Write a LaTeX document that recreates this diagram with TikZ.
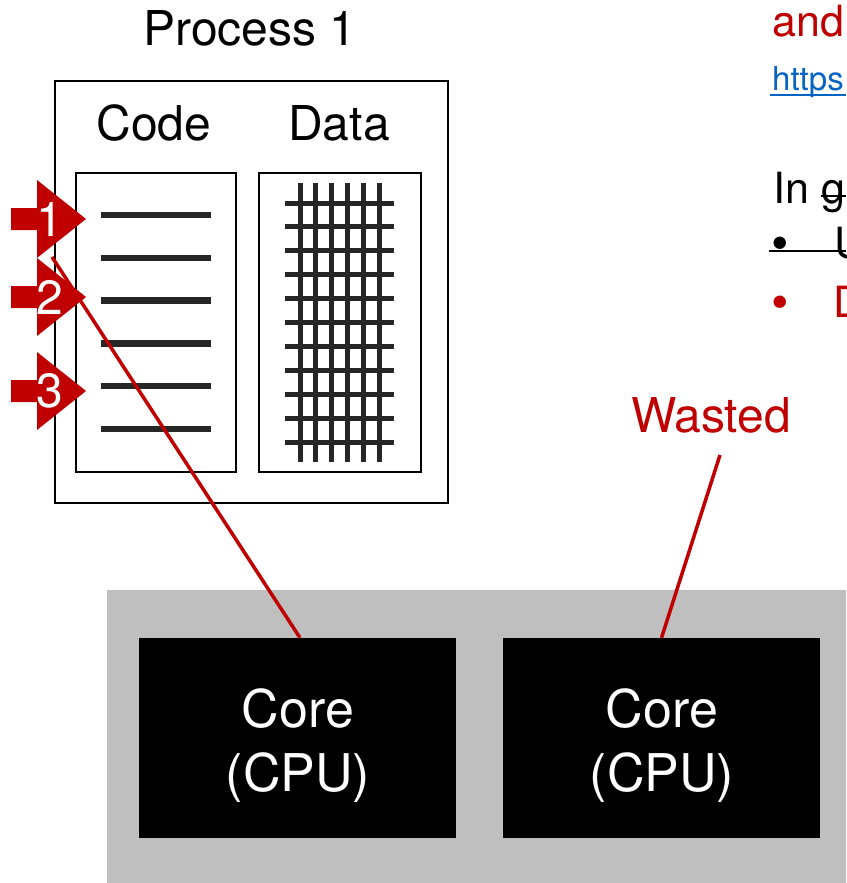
\documentclass[tikz,border=0pt]{standalone}
\usepackage{fontspec}
\setmainfont{TeX Gyre Heros}
\definecolor{accent}{HTML}{C00000}
\definecolor{link}{HTML}{0563C1}
\definecolor{ink}{HTML}{262626}
\definecolor{chip}{HTML}{BFBFBF}
\tikzset{
  big/.style={font=\fontsize{48}{50}\selectfont, inner sep=0pt},
  coretext/.style={font=\fontsize{52}{54}\selectfont, inner sep=0pt, text=white, anchor=base},
  side/.style={font=\fontsize{43}{45}\selectfont, inner sep=0pt, anchor=base west},
  frame/.style={draw=black, line width=2pt},
  codeline/.style={draw=ink, line width=6.5pt},
  gridline/.style={draw=ink, line width=5pt},
  core/.style={fill=black, minimum width=317pt, minimum height=200pt, inner sep=0pt},
  wire/.style={draw=accent, line width=3.5pt},
}
\begin{document}
\begin{tikzpicture}[x=1pt,y=-1pt]
\useasboundingbox (0,0) rectangle (846,883);
\clip (0,0) rectangle (846,883);

% chip with two cores
\fill[chip] (107,590) rectangle (870,883);
\node[core] (core1) at (297.5,738) {};
\node[core] (core2) at (661.5,738) {};
\node[coretext] at (298,727) {Core};
\node[coretext] at (298,791) {(CPU)};
\node[coretext] at (662,727) {Core};
\node[coretext] at (662,791) {(CPU)};

% process image
\node[big, anchor=base] (ptitle) at (250,46) {Process 1};
\draw[frame] (55,81) rectangle (448,503);
\node[big, anchor=base] (codelbl) at (154,140) {Code};
\node[big, anchor=base] (datalbl) at (339,140) {Data};
\draw[frame] (76,173) rectangle (236,472);
\draw[frame] (259,173) rectangle (421,472);

% instructions
\foreach \i in {0,...,5}
  \draw[codeline] (101,215+42.8*\i) -- (211,215+42.8*\i);

% data grid
\foreach \i in {0,...,5}
  \draw[gridline] (300+15.8*\i,183) -- (300+15.8*\i,462);
\foreach \i in {0,...,10}
  \draw[gridline] (285,203+23.9*\i) -- (394,203+23.9*\i);

% threads of execution
\coordinate (pc) at (52,257);
\draw[wire] (pc) -- ([xshift=2.5pt]core1.north);

\foreach \n/\c in {1/219,2/297,3/391}{
  \fill[accent] (11,\c-11) -- (37,\c-11) -- (37,\c-39) -- (86,\c)
    -- (37,\c+39) -- (37,\c+11) -- (11,\c+11) -- cycle;
  \node[big, text=white] (t\n) at (50,\c) {\n};
}

% idle core
\node[big, text=accent, anchor=base] (wasted) at (711,432) {Wasted};
\coordinate (wfoot) at (720,455);
\draw[wire] (wfoot) -- (core2.north);

% slide text at the right edge
\node[side, text=accent] (and) at (772,37) {and};
\node[side, text=link, font=\fontsize{33}{35}\selectfont] (url) at (772,90) {https};
\draw[link, line width=2pt] (770,95) -- (846,95);
\node[side] (ing) at (773,203) {In g};
\draw[black, line width=2pt] (821,196) -- (846,196);
\node[side, font=\fontsize{50}{50}\selectfont] (b1) at (771,260) {\textbullet};
\node[side] (u1) at (834,258) {U};
\draw[black, line width=2pt] (769,251) -- (846,251);
\node[side, text=accent, font=\fontsize{50}{50}\selectfont] (b2) at (771,319) {\textbullet};
\node[side, text=accent] (d1) at (833,317) {D};
\end{tikzpicture}
\end{document}
